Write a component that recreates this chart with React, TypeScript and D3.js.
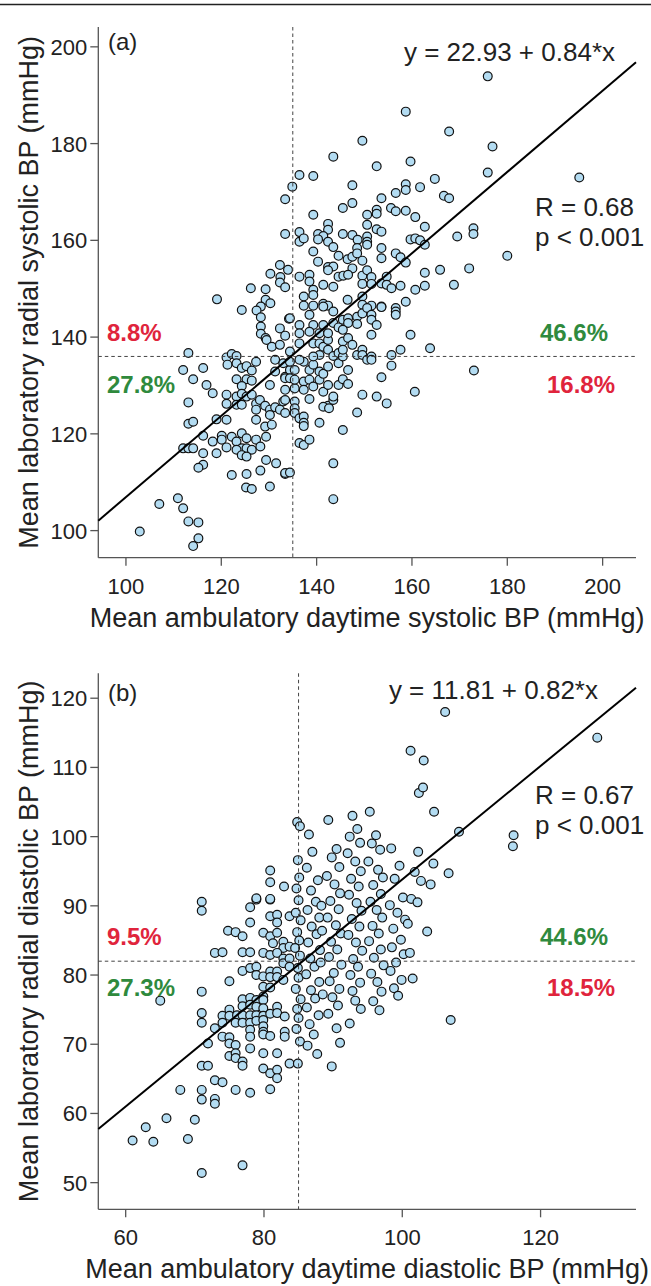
import React from "react";
import * as d3 from "d3";

type Pt = [number, number];

// (a) systolic: [ambulatory daytime, laboratory radial]
const sysPoints: Pt[] = [
  [133.4, 168.5], [133.4, 161.3], [132.3, 154.9], [134.0, 153.9], [130.3, 153.1], [132.4, 152.4], [132.3, 151.3],
  [133.4, 150.3], [126.2, 150.1], [129.3, 149.9], [119.1, 147.8], [129.3, 147.7], [130.3, 147.0], [128.3, 146.3],
  [124.3, 145.6], [127.4, 145.5], [128.3, 144.1], [134.2, 143.8], [128.3, 142.2], [132.3, 141.8], [128.3, 140.7],
  [133.4, 140.3], [129.3, 139.8],
  [113.1, 136.7], [121.1, 135.8], [122.2, 136.5], [123.2, 136.1], [121.3, 134.3], [123.2, 134.6], [127.3, 134.9],
  [112.0, 133.2], [116.2, 133.6], [114.1, 131.3], [124.3, 133.6], [125.3, 134.0], [126.4, 133.1], [116.9, 130.1],
  [118.2, 128.4], [123.2, 131.3], [125.3, 131.3], [126.4, 131.0], [124.3, 129.9], [121.1, 128.1], [121.1, 126.2],
  [123.2, 127.7], [124.3, 128.3], [123.2, 126.0], [124.3, 126.0], [125.3, 127.7], [126.4, 128.1], [127.3, 126.2],
  [127.3, 125.0], [127.3, 122.9], [128.1, 127.0], [129.2, 125.8], [129.2, 121.5], [130.2, 125.0], [131.3, 125.5],
  [130.2, 123.9], [130.6, 121.9], [132.3, 125.0], [133.4, 124.3], [113.1, 126.5], [113.1, 122.1], [114.1, 122.5],
  [119.0, 123.0], [121.1, 122.9], [116.2, 119.6], [118.2, 118.4], [120.1, 119.6], [120.1, 118.8], [121.1, 117.2],
  [122.2, 119.4], [123.2, 118.4], [124.3, 120.1], [125.3, 119.1], [124.3, 117.0], [125.3, 117.0], [126.4, 116.7],
  [127.3, 118.8], [128.2, 117.4], [129.4, 119.4], [123.2, 116.7], [124.3, 115.6], [125.3, 115.3], [112.0, 117.0],
  [113.1, 117.0], [114.1, 117.0], [116.2, 116.0], [119.0, 116.0], [116.2, 113.6], [115.2, 113.0], [129.4, 114.6],
  [131.5, 113.9], [133.4, 111.7], [122.2, 111.5], [125.3, 111.7], [128.2, 112.4], [125.2, 108.9], [126.4, 108.6],
  [130.2, 109.1], [110.9, 106.7], [107.0, 105.5], [112.0, 104.6], [113.1, 101.9], [115.2, 101.7], [102.9, 99.8],
  [115.2, 98.4], [114.1, 96.8],
  [129.5, 139.4], [130.6, 138.0], [132.3, 138.4], [131.3, 135.3], [133.0, 134.6], [133.4, 131.8], [130.2, 130.1],
  [133.4, 129.1], [131.3, 132.9], [133.0, 126.7],
  [158.7, 186.6], [167.8, 182.5], [149.6, 180.6], [143.5, 177.3], [159.7, 176.3], [152.6, 175.3], [136.4, 173.5],
  [139.3, 173.3], [164.8, 172.7], [134.9, 171.1], [147.5, 171.4], [158.7, 171.6], [161.7, 171.0], [158.7, 170.4],
  [156.6, 169.8], [166.7, 169.2], [167.8, 168.7], [153.6, 168.7], [147.5, 167.7], [145.5, 166.7], [152.6, 166.3],
  [155.6, 166.7], [156.6, 166.0], [158.7, 166.1], [139.3, 165.3], [150.6, 165.3], [152.6, 165.5], [160.7, 164.8],
  [142.4, 163.4], [150.6, 163.2], [162.7, 162.8], [152.6, 162.3], [142.4, 162.2], [153.6, 161.8], [136.4, 161.7],
  [136.4, 159.7], [137.3, 160.4], [140.3, 161.3], [141.4, 160.9], [140.3, 160.2], [145.5, 161.3], [147.5, 161.1],
  [148.6, 160.1], [150.6, 160.8], [150.6, 159.7], [150.6, 159.1], [142.4, 159.7], [143.5, 158.6], [159.7, 160.2],
  [160.7, 160.4], [161.7, 160.0], [162.7, 159.1], [169.5, 160.8], [148.5, 158.4], [153.6, 158.4], [139.3, 157.7],
  [144.6, 156.8], [146.5, 156.1], [147.5, 156.6], [148.5, 157.3], [153.6, 156.3], [156.6, 157.3], [157.6, 156.5],
  [158.7, 155.4], [140.3, 155.6], [149.6, 155.8], [142.4, 154.5], [143.5, 154.6], [147.5, 154.2], [142.4, 153.8],
  [136.4, 152.5], [138.5, 152.9], [138.5, 151.5], [141.4, 150.8], [143.5, 150.4], [144.6, 152.5], [145.6, 152.7],
  [146.6, 152.9], [149.6, 152.7], [150.6, 153.8], [149.6, 151.0], [151.5, 152.4], [151.5, 151.0], [153.6, 151.1],
  [154.7, 152.5], [154.7, 150.8], [155.7, 150.1], [157.6, 150.6], [162.7, 153.3], [165.9, 153.9], [162.7, 150.6],
  [160.7, 149.8], [168.8, 150.8], [139.3, 149.8], [139.3, 148.7], [137.3, 148.4], [137.3, 146.5], [139.3, 146.5],
  [141.4, 146.9], [142.4, 146.5], [146.5, 147.7], [149.6, 148.4], [149.6, 146.7], [151.5, 146.5], [153.6, 146.3],
  [156.6, 146.0], [158.7, 147.3],
  [138.5, 144.6], [134.4, 143.9], [136.4, 142.5], [139.3, 142.5], [136.4, 140.8], [138.5, 141.1], [141.4, 146.3],
  [143.5, 145.3], [143.5, 142.9], [144.6, 142.0], [145.5, 143.6], [146.6, 143.9], [146.6, 142.9], [148.5, 144.2],
  [148.5, 142.7], [149.6, 144.9], [150.6, 146.0], [151.5, 144.6], [151.5, 143.6], [152.6, 142.5], [153.6, 146.2],
  [156.6, 145.3], [156.6, 144.6], [159.7, 140.5], [151.5, 140.5], [157.6, 137.4], [155.7, 136.3], [163.8, 137.7],
  [155.7, 134.1], [153.6, 131.7], [160.6, 128.7], [152.6, 127.7], [154.7, 126.3], [149.6, 128.1], [148.5, 124.4],
  [145.5, 120.8], [143.5, 113.9], [143.5, 106.5],
  [134.4, 137.0], [134.4, 133.2], [135.4, 133.2], [133.4, 131.5], [135.4, 129.4], [133.4, 127.0], [135.4, 126.7],
  [135.4, 125.3], [135.4, 124.3], [136.4, 123.2], [137.3, 123.6], [137.3, 122.3], [137.3, 121.6], [136.4, 118.1],
  [137.3, 117.7], [138.5, 118.8], [140.6, 122.3], [133.4, 111.9], [134.4, 112.0], [136.4, 138.7], [137.3, 134.9],
  [138.5, 133.2], [139.3, 134.3], [137.3, 130.8], [138.5, 131.2], [137.3, 129.1], [139.3, 129.8], [138.5, 127.2],
  [139.3, 138.7], [140.6, 138.7], [140.6, 136.3], [141.4, 138.0], [142.4, 139.4], [142.4, 137.4], [140.6, 132.9],
  [140.6, 131.2], [141.4, 132.4], [141.4, 128.7], [142.4, 133.9], [142.4, 130.1], [142.4, 125.8], [141.4, 125.6],
  [143.5, 127.0], [143.5, 127.7], [142.6, 125.3], [143.5, 136.1], [144.6, 136.7], [144.6, 134.6], [145.5, 136.0],
  [145.5, 139.1], [145.5, 137.4], [146.6, 139.8], [147.5, 138.4], [146.6, 133.2], [144.6, 130.1], [145.5, 131.3],
  [146.6, 130.3], [148.5, 136.3], [149.6, 137.4], [149.6, 136.3], [150.6, 135.3], [151.5, 136.0], [151.5, 135.3],
  [145.5, 141.5], [136.4, 135.3], [134.4, 134.9], [139.3, 136.0], [140.6, 140.8], [142.4, 140.8], [141.4, 142.5],
  [134.4, 131.5], [135.4, 131.2],
  [175.9, 193.9], [176.9, 179.4], [175.9, 174.0], [195.1, 173.0], [172.9, 162.5], [172.9, 161.3], [180.0, 156.8],
  [172.0, 154.2], [173.0, 133.1],
];

// (b) diastolic: [ambulatory daytime, laboratory radial]
const diaPoints: Pt[] = [
  [71.0, 90.6], [71.0, 89.3], [78.0, 89.8], [78.9, 90.9], [80.9, 90.9], [78.0, 87.6], [80.9, 88.5], [81.9, 88.7],
  [81.9, 87.6], [83.7, 88.5], [74.8, 86.4], [75.9, 86.2], [76.9, 85.6], [79.9, 86.1], [80.9, 85.6], [81.9, 86.1],
  [81.3, 84.6], [82.8, 84.8], [82.8, 83.9], [83.7, 84.1], [72.9, 83.2], [74.0, 83.3], [76.9, 83.3], [78.0, 83.3],
  [79.9, 83.2], [80.9, 82.9], [81.9, 83.2], [82.8, 82.4], [82.8, 81.7], [83.7, 82.4], [83.7, 81.2], [76.9, 80.6],
  [78.0, 81.0], [78.9, 81.2], [78.9, 80.0], [79.9, 79.8], [80.9, 80.5], [80.9, 79.7], [81.9, 80.5], [81.9, 79.7],
  [82.8, 79.3], [75.0, 79.1], [79.9, 78.3], [80.9, 78.2], [71.0, 77.6], [65.0, 76.3], [79.9, 76.9], [76.9, 76.5],
  [78.0, 76.7], [78.9, 76.4], [76.9, 75.5], [78.0, 75.7], [78.9, 75.4], [79.9, 76.4], [79.9, 75.2], [81.9, 75.4],
  [75.0, 75.0], [74.0, 74.1], [75.0, 74.1], [76.1, 74.2], [76.9, 74.2], [78.0, 74.2], [78.9, 74.2], [79.9, 74.1],
  [80.9, 74.4], [81.9, 74.5], [83.0, 74.0], [74.0, 73.1], [75.9, 73.1], [76.9, 73.1], [78.0, 73.1], [78.9, 73.4],
  [79.9, 73.5], [79.9, 72.6], [71.0, 74.5], [71.0, 73.1], [72.9, 72.3], [78.0, 72.1], [79.9, 71.8], [79.9, 71.4],
  [80.9, 71.2], [83.0, 71.8], [83.0, 71.1], [74.0, 71.1], [75.0, 71.0], [75.0, 70.1], [75.9, 69.9], [78.0, 71.1],
  [78.0, 69.4], [71.9, 70.1], [75.0, 68.3], [75.9, 68.7], [75.9, 68.0], [76.9, 67.5], [76.9, 66.9], [79.9, 68.7],
  [81.9, 68.7], [83.7, 67.2], [71.0, 66.9], [71.9, 66.9], [79.9, 66.5], [80.9, 65.8], [81.9, 66.3], [81.9, 65.1],
  [72.9, 64.8], [74.0, 64.5], [67.9, 63.4], [71.0, 63.4], [75.9, 63.4], [78.0, 63.0], [80.9, 63.5], [71.0, 62.0],
  [72.9, 62.1], [72.9, 61.4], [65.9, 59.3], [70.0, 59.1], [62.9, 58.0], [61.0, 56.1], [64.0, 55.9], [69.0, 56.3],
  [76.9, 52.5], [71.0, 51.4],
  [80.9, 95.1], [80.9, 93.4], [82.9, 92.8], [78.9, 91.1], [80.9, 91.0],
  [84.8, 102.1], [85.2, 101.5], [84.9, 96.6], [85.1, 94.1], [84.7, 92.5], [85.0, 90.8], [84.6, 89.0], [85.3, 87.9],
  [84.8, 86.2], [85.1, 85.0], [84.5, 83.9], [85.2, 82.8], [84.9, 81.0], [85.0, 79.6], [84.6, 78.0], [85.3, 76.5],
  [84.8, 75.1], [85.0, 73.8], [84.7, 72.2], [85.2, 70.4], [84.9, 67.2],
  [86.5, 100.3], [87.0, 97.8], [86.2, 95.5], [87.8, 93.7], [86.8, 92.2], [87.5, 90.6], [86.3, 89.4], [88.0, 88.3],
  [86.9, 87.0], [87.6, 85.9], [86.4, 84.7], [88.1, 83.6], [86.7, 82.4], [87.3, 81.2], [86.1, 80.1], [88.0, 79.0],
  [86.8, 77.8], [87.4, 76.6], [86.2, 75.3], [87.9, 74.2], [86.6, 72.9], [87.2, 71.4], [86.3, 69.8], [87.7, 68.6],
  [88.3, 90.0], [88.4, 86.4], [88.2, 81.8], [88.5, 77.2],
  [89.3, 102.4], [90.5, 98.2], [89.8, 97.0], [90.9, 95.6], [89.1, 94.3], [90.2, 93.1], [91.0, 91.8], [89.6, 90.7],
  [90.8, 89.5], [89.2, 88.3], [90.4, 87.2], [91.1, 86.0], [89.7, 84.8], [90.6, 83.7], [89.4, 82.6], [91.2, 81.5],
  [90.1, 80.3], [89.5, 79.1], [90.9, 78.0], [89.9, 76.8], [90.7, 75.6], [89.3, 74.4], [90.5, 72.3], [91.0, 70.2],
  [89.8, 66.8],
  [92.8, 103.0], [93.5, 101.1], [92.4, 100.0], [93.9, 99.1], [92.1, 97.6], [93.2, 96.4], [94.0, 95.0], [92.6, 93.9],
  [93.7, 92.8], [92.3, 91.6], [93.4, 90.4], [94.1, 89.3], [92.7, 88.1], [93.8, 87.0], [92.2, 85.8], [93.3, 84.7],
  [94.2, 83.5], [92.9, 82.3], [93.6, 81.2], [92.5, 80.0], [93.9, 78.9], [92.8, 77.7], [93.2, 76.3], [94.0, 75.1],
  [92.4, 73.0],
  [95.3, 103.6], [96.2, 100.2], [95.6, 99.0], [96.8, 98.1], [95.1, 96.4], [96.5, 95.2], [97.2, 94.1], [95.8, 93.0],
  [96.9, 91.7], [95.4, 90.6], [96.3, 89.4], [97.1, 88.3], [95.7, 87.1], [96.6, 86.0], [95.2, 84.9], [96.9, 83.7],
  [95.9, 82.5], [97.3, 81.4], [95.5, 80.2], [96.4, 79.0], [97.0, 77.6], [95.8, 76.2], [96.7, 74.9],
  [98.4, 98.3], [99.6, 95.8], [98.9, 93.9], [100.1, 91.2], [98.2, 90.1], [99.3, 89.0], [100.4, 88.0], [98.7, 86.7],
  [99.8, 85.1], [98.5, 84.0], [100.2, 83.0], [99.1, 81.8], [98.3, 80.6], [99.9, 79.3], [98.8, 78.1], [99.4, 77.0],
  [101.2, 112.4], [103.1, 111.0], [102.4, 106.3], [103.0, 107.1], [104.6, 103.6], [108.2, 100.7], [116.1, 100.2],
  [116.0, 98.6], [101.8, 94.9], [102.7, 93.6], [104.1, 93.1], [106.7, 94.7], [101.3, 91.0], [102.2, 90.5],
  [103.6, 86.3], [101.1, 83.2], [101.5, 79.5], [107.0, 73.5], [106.2, 118.0], [128.2, 114.3], [102.3, 97.8],
  [104.5, 96.1], [100.8, 87.4],
];

const sysXTicks = [100, 120, 140, 160, 180, 200];
const sysYTicks = [100, 120, 140, 160, 180, 200];
const diaXTicks = [60, 80, 100, 120];
const diaYTicks = [50, 60, 70, 80, 90, 100, 110, 120];

const sysFit = { a: 22.93, b: 0.84 };
const diaFit = { a: 11.81, b: 0.82 };
const sysCut = { x: 135, y: 136 };
const diaCut = { x: 85, y: 82 };

const sysPct = ["8.8%", "27.8%", "46.6%", "16.8%"];
const diaPct = ["9.5%", "27.3%", "44.6%", "18.5%"];

const FONT = "'Liberation Sans', Arial, Helvetica, sans-serif";
const RED = "#e0243c";
const GREEN = "#2f8a3d";
const AXIS = "#555";
const TXT = "#222";

function Panel(props: any) {
  const p = props.cfg;
  const x = d3.scaleLinear().domain(p.xDomain).range([p.left, p.right]);
  const y = d3.scaleLinear().domain(p.yDomain).range([p.bottom, p.top]);
  const fitLine = d3.line<number>()
    .x(d => x(d))
    .y(d => y(p.fit.a + p.fit.b * d));
  const midX = (p.left + p.right) / 2;
  const midY = (p.top + p.bottom) / 2;

  return (
    <g>
      {/* axes, L shaped like R's bty="l" */}
      <line x1={p.left} x2={p.left} y1={p.top} y2={p.bottom} stroke={AXIS} strokeWidth={1.3} />
      <line x1={p.left} x2={p.right} y1={p.bottom} y2={p.bottom} stroke={AXIS} strokeWidth={1.3} />
      {p.xTicks.map((t: number) => (
        <g key={"x" + t}>
          <line x1={x(t)} x2={x(t)} y1={p.bottom} y2={p.bottom + 8} stroke={AXIS} strokeWidth={1.3} />
          <text x={x(t)} y={p.bottom + 36} textAnchor="middle" fontSize={22} fill={TXT}>{t}</text>
        </g>
      ))}
      {p.yTicks.map((t: number) => (
        <g key={"y" + t}>
          <line x1={p.left - 8} x2={p.left} y1={y(t)} y2={y(t)} stroke={AXIS} strokeWidth={1.3} />
          <text x={p.left - 11} y={y(t) + 8} textAnchor="end" fontSize={22} fill={TXT}>{t}</text>
        </g>
      ))}
      <text x={midX} y={p.bottom + 69} textAnchor="middle" fontSize={27} fill={TXT}>{p.xTitle}</text>
      <text transform={`translate(38,${midY}) rotate(-90)`} textAnchor="middle" fontSize={27} fill={TXT}>{p.yTitle}</text>

      {p.points.map((d: Pt, i: number) => (
        <circle key={i} cx={x(d[0])} cy={y(d[1])} r={4.4} fill="#b3dcf2" stroke="#111" strokeWidth={1.2} />
      ))}

      <line x1={x(p.cut.x)} x2={x(p.cut.x)} y1={p.top} y2={p.bottom} stroke="#444" strokeWidth={1} strokeDasharray="3.5,3" />
      <line x1={p.left} x2={p.right} y1={y(p.cut.y)} y2={y(p.cut.y)} stroke="#444" strokeWidth={1} strokeDasharray="3.5,3" />
      <path d={fitLine(p.xDomain) || ""} stroke="#000" strokeWidth={2} fill="none" />

      <text x={p.tagX} y={p.tagY} fontSize={24} fill={TXT}>{p.tag}</text>
      <text x={p.eqX} y={p.eqY} textAnchor="end" fontSize={26} fill={TXT}>{p.eq}</text>
      <text x={535} y={p.rY} fontSize={26} fill={TXT}>{p.r}</text>
      <text x={535} y={p.rY + 30} fontSize={26} fill={TXT}>p &lt; 0.001</text>

      <text x={107} y={p.pctTop} fontSize={24} fontWeight="bold" fill={RED}>{p.pct[0]}</text>
      <text x={107} y={p.pctBot} fontSize={24} fontWeight="bold" fill={GREEN}>{p.pct[1]}</text>
      <text x={608} y={p.pctTop} textAnchor="end" fontSize={24} fontWeight="bold" fill={GREEN}>{p.pct[2]}</text>
      <text x={615} y={p.pctBot} textAnchor="end" fontSize={24} fontWeight="bold" fill={RED}>{p.pct[3]}</text>
    </g>
  );
}

const panelA = {
  left: 98.3, right: 636, top: 27, bottom: 557.7,
  xDomain: [94.2, 207.0], yDomain: [94.4, 204.1],
  xTicks: sysXTicks, yTicks: sysYTicks,
  points: sysPoints, fit: sysFit, cut: sysCut, pct: sysPct,
  xTitle: "Mean ambulatory daytime systolic BP (mmHg)",
  yTitle: "Mean laboratory radial systolic BP (mmHg)",
  tag: "(a)", tagX: 108, tagY: 50,
  eq: "y = 22.93 + 0.84*x", eqX: 615, eqY: 61,
  r: "R = 0.68", rY: 216,
  pctTop: 341, pctBot: 393,
};

const panelB = {
  left: 98.3, right: 636, top: 673.3, bottom: 1209.3,
  xDomain: [56.04, 133.8], yDomain: [46.15, 123.6],
  xTicks: diaXTicks, yTicks: diaYTicks,
  points: diaPoints, fit: diaFit, cut: diaCut, pct: diaPct,
  xTitle: "Mean ambulatory daytime diastolic BP (mmHg)",
  yTitle: "Mean laboratory radial diastolic BP (mmHg)",
  tag: "(b)", tagX: 108, tagY: 701,
  eq: "y = 11.81 + 0.82*x", eqX: 598, eqY: 699,
  r: "R = 0.67", rY: 804,
  pctTop: 945, pctBot: 996,
};

export default function App() {
  return (
    <svg width={651} height={1286} style={{ position: "absolute", left: 0, top: 0, background: "#fff" }}
      fontFamily={FONT}>
      <rect width={651} height={1286} fill="#fff" />
      <line x1={0} x2={651} y1={4.5} y2={4.5} stroke="#222" strokeWidth={1.5} />
      <Panel cfg={panelA} />
      <Panel cfg={panelB} />
    </svg>
  );
}
